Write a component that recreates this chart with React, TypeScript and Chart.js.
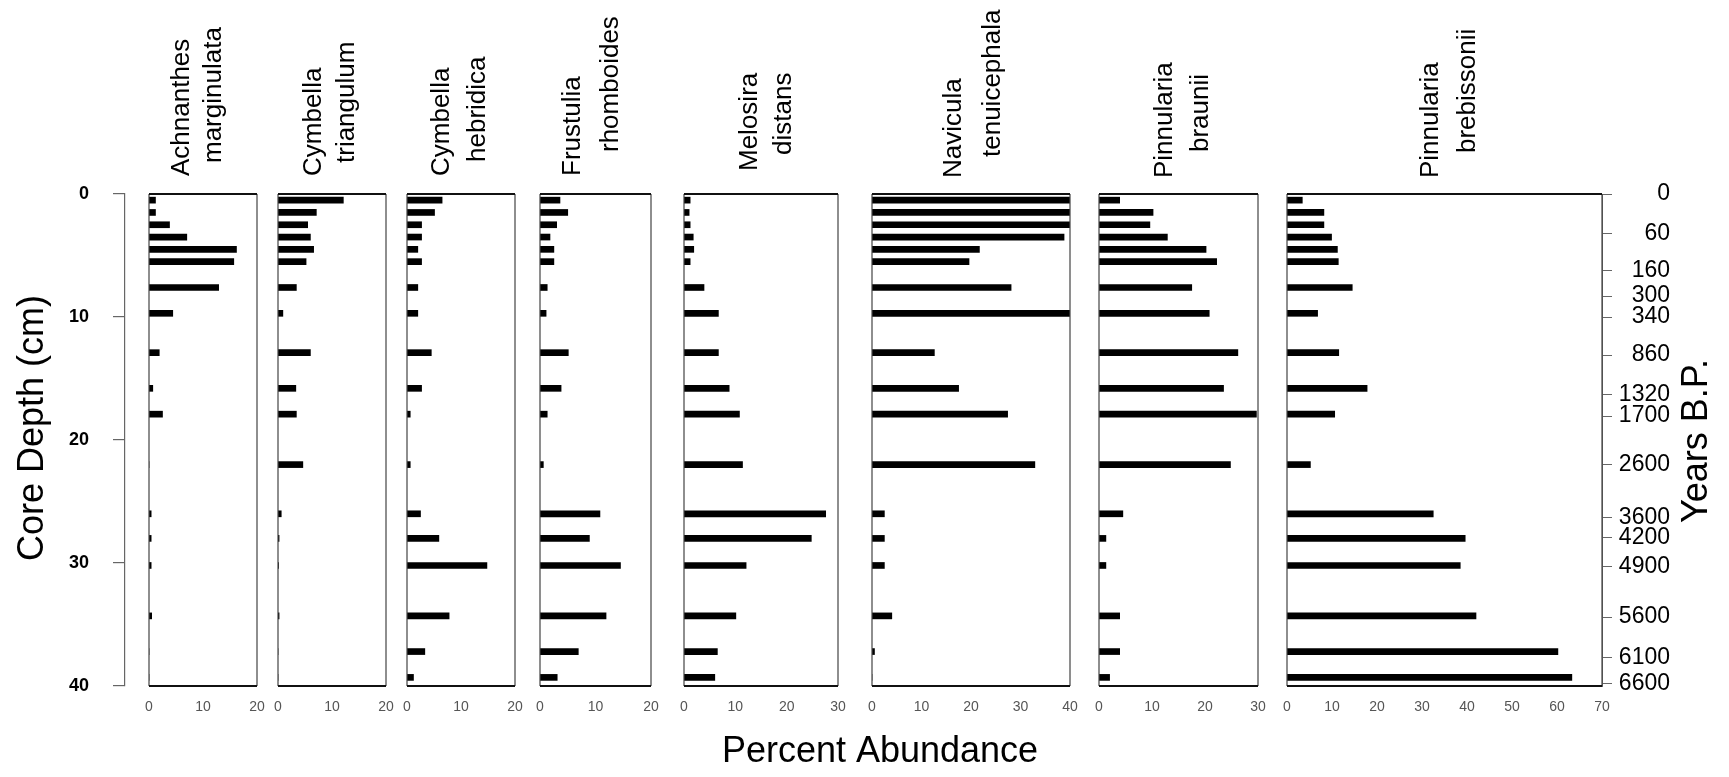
import React, { useEffect, useRef } from 'react';
import { Chart, registerables } from 'chart.js';

Chart.register(...registerables);

// ---------------- DATA ----------------
const sampleDepthsCm = [0.5, 1.5, 2.5, 3.5, 4.5, 5.5, 7.6, 9.7, 12.9, 15.8, 17.9, 22, 26, 28, 30.2, 34.3, 37.2, 39.3];

const achnanthesMarginulata = [1.2, 1.2, 3.8, 7.0, 16.2, 15.7, 12.9, 4.4, 1.9, 0.7, 2.5, 0, 0.4, 0.4, 0.4, 0.5, 0, 0];
const cymbellaTriangulum = [12.1, 7.1, 5.5, 6.0, 6.6, 5.2, 3.4, 0.9, 6.0, 3.3, 3.4, 4.6, 0.6, 0.2, 0.1, 0.2, 0, 0];
const cymbellaHebridica = [6.5, 5.1, 2.7, 2.7, 2.0, 2.7, 2.0, 2.0, 4.5, 2.7, 0.6, 0.6, 2.5, 5.9, 14.8, 7.8, 3.3, 1.2];
const frustuliaRhomboides = [3.6, 5.0, 3.0, 1.8, 2.5, 2.5, 1.3, 1.1, 5.1, 3.8, 1.3, 0.6, 10.8, 8.9, 14.5, 11.9, 6.9, 3.1];
const melosiraDistans = [1.2, 1.0, 1.2, 1.8, 1.9, 1.2, 3.9, 6.7, 6.7, 8.8, 10.8, 11.4, 27.6, 24.8, 12.1, 10.1, 6.5, 6.0];
const naviculaTenuicephala = [40, 40, 40, 38.8, 21.7, 19.6, 28.1, 40, 12.6, 17.5, 27.4, 32.9, 2.5, 2.5, 2.5, 4.0, 0.5, 0];
const pinnulariaBraunii = [3.9, 10.2, 9.6, 12.9, 20.2, 22.2, 17.5, 20.8, 26.2, 23.5, 29.7, 24.8, 4.5, 1.3, 1.3, 3.9, 3.9, 2.0];
const pinnulariaBrebissonii = [3.4, 8.2, 8.2, 9.9, 11.2, 11.4, 14.5, 6.8, 11.5, 17.8, 10.6, 5.2, 32.5, 39.6, 38.5, 42.0, 60.2, 63.3];

const taxonNames = [
  ['Achnanthes', 'marginulata'],
  ['Cymbella', 'triangulum'],
  ['Cymbella', 'hebridica'],
  ['Frustulia', 'rhomboides'],
  ['Melosira', 'distans'],
  ['Navicula', 'tenuicephala'],
  ['Pinnularia', 'braunii'],
  ['Pinnularia', 'brebissonii'],
];
const taxonValues = [
  achnanthesMarginulata, cymbellaTriangulum, cymbellaHebridica, frustuliaRhomboides,
  melosiraDistans, naviculaTenuicephala, pinnulariaBraunii, pinnulariaBrebissonii,
];
const percentAxisMax = [20, 20, 20, 20, 30, 40, 30, 70];
const percentTickStep = 10;

const depthTickValues = [0, 10, 20, 30, 40];
const ageTickLabels = ['0', '60', '160', '300', '340', '860', '1320', '1700', '2600', '3600', '4200', '4900', '5600', '6100', '6600'];
const ageTickDepths = [0, 3.2, 6.2, 8.3, 10, 13.1, 16.3, 18.05, 22, 26.3, 27.9, 30.3, 34.4, 37.7, 39.8];

const depthTitle = 'Core Depth (cm)';
const ageTitle = 'Years B.P.';
const percentTitle = 'Percent Abundance';

// ---------------- STYLE / LAYOUT ----------------
const W = 1729;
const H = 777;
const FONT = '"Liberation Sans", Arial, Helvetica, sans-serif';
const LEAD_GAP = 24;
const PANEL_WIDTHS = [108, 108, 108, 111, 154, 198, 159, 315];
const GAP_WIDTHS = [21, 21, 25, 33, 34, 29, 29];
const TITLE_DX1 = [-21, -18, -19, -23, -11, -17, -14, -14];
const TITLE_DX2 = [11, 15, 17, 15, 23, 22, 22, 23];
const TITLE_Y1 = [176, 176, 176, 176, 171, 178, 178, 178];
const TITLE_Y2 = [163, 163, 162, 152, 155, 157, 152, 153];

const decorPlugin = {
  id: 'decor',
  afterDatasetsDraw(chart: any) {
    const { ctx, chartArea } = chart;
    const top = chartArea.top;
    const bottom = chartArea.bottom;
    ctx.save();
    taxonValues.forEach((_, i) => {
      const s = chart.scales['x' + i];
      const l = s.left;
      const r = s.right;
      ctx.strokeStyle = '#444';
      ctx.lineWidth = 1.2;
      ctx.beginPath();
      ctx.moveTo(l, top);
      ctx.lineTo(l, bottom);
      ctx.moveTo(r, top);
      ctx.lineTo(r, bottom);
      ctx.stroke();
      ctx.strokeStyle = '#111';
      ctx.lineWidth = 2;
      ctx.beginPath();
      ctx.moveTo(l, top);
      ctx.lineTo(r, top);
      ctx.moveTo(l, bottom);
      ctx.lineTo(r, bottom);
      ctx.stroke();
    });
    ctx.restore();
  },
  afterDraw(chart: any) {
    const { ctx } = chart;
    ctx.save();
    ctx.fillStyle = '#000';
    // species titles (rotated, reading upward)
    ctx.font = `26px ${FONT}`;
    ctx.textAlign = 'left';
    ctx.textBaseline = 'middle';
    taxonNames.forEach((lines, i) => {
      const s = chart.scales['x' + i];
      const c = (s.left + s.right) / 2;
      const xs = [c + TITLE_DX1[i], c + TITLE_DX2[i]];
      const ys = [TITLE_Y1[i], TITLE_Y2[i]];
      lines.forEach((t, k) => {
        ctx.save();
        ctx.translate(xs[k], ys[k]);
        ctx.rotate(-Math.PI / 2);
        ctx.fillText(t, 0, 0);
        ctx.restore();
      });
    });
    // axis titles
    ctx.font = `36px ${FONT}`;
    ctx.textAlign = 'center';
    ctx.textBaseline = 'middle';
    ctx.save();
    ctx.translate(33, 428);
    ctx.rotate(-Math.PI / 2);
    ctx.fillText(depthTitle, 0, 0);
    ctx.restore();
    ctx.save();
    ctx.translate(1697, 441);
    ctx.rotate(-Math.PI / 2);
    ctx.fillText(ageTitle, 0, 0);
    ctx.restore();
    ctx.textBaseline = 'alphabetic';
    ctx.fillText(percentTitle, 880, 762);
    ctx.restore();
  },
};

function buildScales() {
  const scales: any = {
    y: {
      type: 'linear',
      position: 'left',
      reverse: true,
      offset: false,
      min: 0,
      max: 40,
      afterBuildTicks: (s: any) => {
        s.ticks = depthTickValues.map((v) => ({ value: v }));
      },
      ticks: { font: { family: FONT, size: 18, weight: 'bold' }, color: '#000', padding: 24 },
      grid: { offset: false, drawOnChartArea: false, tickLength: 12, color: '#666', lineWidth: 1.2 },
      border: { color: '#666', width: 1.2 },
      afterFit: (s: any) => {
        s.width = 125;
      },
    },
    yAge: {
      type: 'linear',
      position: 'right',
      reverse: true,
      offset: false,
      min: 0,
      max: 40,
      afterBuildTicks: (s: any) => {
        s.ticks = ageTickDepths.map((v) => ({ value: v }));
      },
      ticks: {
        autoSkip: false,
        callback: (_v: any, i: number) => ageTickLabels[i],
        font: { family: FONT, size: 23 },
        color: '#000',
        padding: 7,
        crossAlign: 'far',
      },
      grid: { offset: false, drawOnChartArea: false, tickLength: 10, color: '#666' },
      border: { color: '#666' },
      afterFit: (s: any) => {
        s.width = 68;
      },
    },
  };
  let order = 0;
  const spacer = (w: number) => ({
    type: 'linear',
    position: 'bottom',
    stack: 'panels',
    stackWeight: w,
    weight: order++,
    offset: false,
    ticks: { display: false },
    grid: { display: false, drawTicks: false },
    border: { display: false },
    afterFit: (s: any) => {
      s.height = 40;
    },
  });
  scales['gap_lead'] = spacer(LEAD_GAP);
  percentAxisMax.forEach((mx, i) => {
    scales['x' + i] = {
      type: 'linear',
      position: 'bottom',
      stack: 'panels',
      stackWeight: PANEL_WIDTHS[i],
      weight: order++,
      offset: false,
      min: 0,
      max: mx,
      ticks: {
        stepSize: percentTickStep,
        autoSkip: false,
        maxRotation: 0,
        font: { family: FONT, size: 14 },
        color: '#555',
        padding: 13,
      },
      grid: { display: false, drawTicks: false },
      border: { display: false },
      afterFit: (s: any) => {
        s.height = 40;
      },
    };
    if (i < GAP_WIDTHS.length) scales['gap' + i] = spacer(GAP_WIDTHS[i]);
  });
  return scales;
}

export default function App() {
  const ref = useRef<HTMLCanvasElement | null>(null);
  useEffect(() => {
    if (!ref.current) return;
    const chart = new Chart(ref.current, {
      type: 'bar',
      data: {
        datasets: taxonValues.map((vals, i) => ({
          label: taxonNames[i].join(' '),
          data: sampleDepthsCm.map((d, j) => ({ x: vals[j], y: d })),
          xAxisID: 'x' + i,
          yAxisID: 'y',
          backgroundColor: '#000',
          borderWidth: 0,
          barThickness: 6,
          grouped: false,
        })),
      },
      options: {
        indexAxis: 'y',
        responsive: false,
        animation: false,
        devicePixelRatio: 1,
        layout: { padding: { top: 194, right: 59, bottom: 51, left: 0 } },
        plugins: { legend: { display: false }, title: { display: false }, tooltip: { enabled: false } },
        scales: buildScales(),
      } as any,
      plugins: [decorPlugin],
    });
    return () => chart.destroy();
  }, []);
  return (
    <div style={{ position: 'absolute', left: 0, top: 0, width: W, height: H, background: '#fff' }}>
      <canvas ref={ref} width={W} height={H} style={{ display: 'block', width: W, height: H }} />
    </div>
  );
}
